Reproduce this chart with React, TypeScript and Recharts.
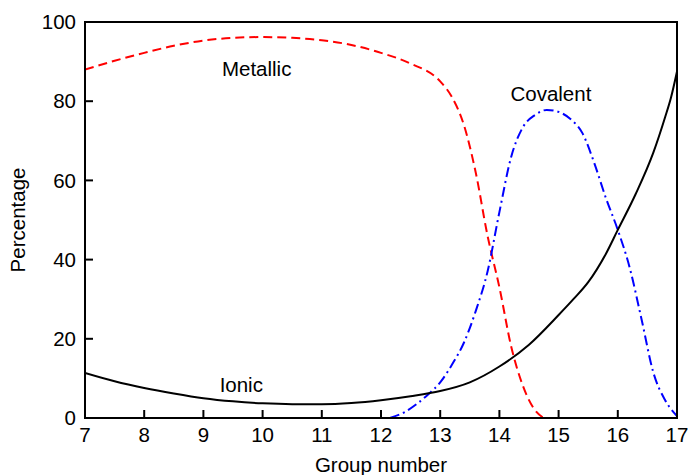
import React from "react";
import { LineChart, Line, XAxis, YAxis, ReferenceArea, ReferenceDot } from "recharts";

const xTicks = [7, 8, 9, 10, 11, 12, 13, 14, 15, 16, 17];
const yTicks = [0, 20, 40, 60, 80, 100];

const metallic = [
  { g: 7, v: 88 }, { g: 7.5, v: 90.2 }, { g: 8, v: 92.2 }, { g: 8.5, v: 94 },
  { g: 9, v: 95.3 }, { g: 9.5, v: 96 }, { g: 10, v: 96.2 }, { g: 10.5, v: 96 },
  { g: 11, v: 95.4 }, { g: 11.5, v: 94.2 }, { g: 12, v: 92.2 }, { g: 12.5, v: 89.5 },
  { g: 13, v: 85 }, { g: 13.2, v: 81 }, { g: 13.4, v: 74 }, { g: 13.6, v: 62 },
  { g: 13.8, v: 46 }, { g: 14, v: 33 }, { g: 14.2, v: 18 }, { g: 14.4, v: 8 },
  { g: 14.6, v: 2 }, { g: 14.75, v: 0 },
];

const covalent = [
  { g: 12.15, v: 0 }, { g: 12.4, v: 1.5 }, { g: 12.6, v: 3.5 }, { g: 12.8, v: 6 },
  { g: 13, v: 9 }, { g: 13.2, v: 13.5 }, { g: 13.4, v: 19 }, { g: 13.6, v: 27 },
  { g: 13.8, v: 37 }, { g: 14, v: 52 }, { g: 14.2, v: 66 }, { g: 14.4, v: 73.5 },
  { g: 14.6, v: 76.5 }, { g: 14.8, v: 77.8 }, { g: 15, v: 77.3 }, { g: 15.2, v: 75.5 },
  { g: 15.4, v: 72 }, { g: 15.6, v: 64.5 }, { g: 15.8, v: 55.5 }, { g: 16, v: 47.5 },
  { g: 16.2, v: 38 }, { g: 16.4, v: 25 }, { g: 16.6, v: 11.5 }, { g: 16.8, v: 4.5 },
  { g: 17, v: 0.5 },
];

const ionic = [
  { g: 7, v: 11.4 }, { g: 7.5, v: 9.3 }, { g: 8, v: 7.6 }, { g: 8.5, v: 6.2 },
  { g: 9, v: 5 }, { g: 9.5, v: 4.2 }, { g: 10, v: 3.7 }, { g: 10.5, v: 3.5 },
  { g: 11, v: 3.5 }, { g: 11.5, v: 3.8 }, { g: 12, v: 4.5 }, { g: 12.5, v: 5.5 },
  { g: 13, v: 6.8 }, { g: 13.5, v: 9 }, { g: 14, v: 13 }, { g: 14.5, v: 18.5 },
  { g: 15, v: 26 }, { g: 15.25, v: 30 }, { g: 15.5, v: 34.3 }, { g: 15.8, v: 41.5 },
  { g: 16, v: 47.5 }, { g: 16.3, v: 56.5 }, { g: 16.6, v: 67 }, { g: 16.8, v: 76 },
  { g: 16.9, v: 81 }, { g: 17, v: 87.5 },
];

const labels = [
  { text: "Metallic", g: 9.9, v: 88.1 },
  { text: "Covalent", g: 14.87, v: 81.8 },
  { text: "Ionic", g: 9.64, v: 8.3 },
];

const FONT = "'Liberation Sans', Arial, Helvetica, sans-serif";
const FS = 20.5;
const tickStyle = { fill: "#000", fontSize: FS, fontFamily: FONT };

export default function App() {
  return (
    <div style={{ position: "absolute", left: 0, top: 0, background: "#fff" }}>
      <LineChart
        width={688}
        height={475}
        margin={{ top: 22, right: 11, bottom: 0, left: 0 }}
        style={{ fontFamily: FONT }}
      >
        <XAxis
          dataKey="g"
          type="number"
          domain={[7, 17]}
          ticks={xTicks}
          allowDataOverflow
          height={57}
          tickSize={-8}
          tickMargin={17}
          tick={tickStyle}
          axisLine={{ stroke: "#000", strokeWidth: 2 }}
          tickLine={{ stroke: "#000", strokeWidth: 2 }}
          label={{
            value: "Group number",
            position: "insideBottom",
            offset: 3,
            style: { fill: "#000", fontSize: FS, fontFamily: FONT },
          }}
        />
        <YAxis
          type="number"
          domain={[0, 100]}
          ticks={yTicks}
          allowDataOverflow
          width={85}
          tickSize={-8}
          tickMargin={17}
          tick={tickStyle}
          axisLine={{ stroke: "#000", strokeWidth: 2 }}
          tickLine={{ stroke: "#000", strokeWidth: 2 }}
          label={{
            value: "Percentage",
            content: (props: any) => {
              const vb = props.viewBox || {};
              const cx = 17;
              const cy = vb.y + vb.height / 2;
              return (
                <text
                  x={cx}
                  y={cy}
                  transform={`rotate(-90 ${cx} ${cy})`}
                  textAnchor="middle"
                  dominantBaseline="central"
                  fill="#000"
                  fontSize={FS}
                  fontFamily={FONT}
                >
                  Percentage
                </text>
              );
            },
          }}
        />
        <ReferenceArea
          x1={7}
          x2={17}
          y1={0}
          y2={100}
          fill="none"
          fillOpacity={0}
          stroke="#000"
          strokeWidth={2}
          ifOverflow="extendDomain"
        />
        <Line
          data={metallic}
          dataKey="v"
          type="monotone"
          stroke="#ff0000"
          strokeWidth={2}
          strokeDasharray="9 5"
          dot={false}
          activeDot={false}
          isAnimationActive={false}
        />
        <Line
          data={covalent}
          dataKey="v"
          type="monotone"
          stroke="#0000ff"
          strokeWidth={2}
          strokeDasharray="10 4 2 4"
          dot={false}
          activeDot={false}
          isAnimationActive={false}
        />
        <Line
          data={ionic}
          dataKey="v"
          type="monotone"
          stroke="#000"
          strokeWidth={2}
          dot={false}
          activeDot={false}
          isAnimationActive={false}
        />
        {labels.map((l) => (
          <ReferenceDot
            key={l.text}
            x={l.g}
            y={l.v}
            r={0}
            fill="none"
            stroke="none"
            label={{
              value: l.text,
              position: "center",
              style: { fill: "#000", fontSize: FS, fontFamily: FONT },
            }}
          />
        ))}
      </LineChart>
    </div>
  );
}
